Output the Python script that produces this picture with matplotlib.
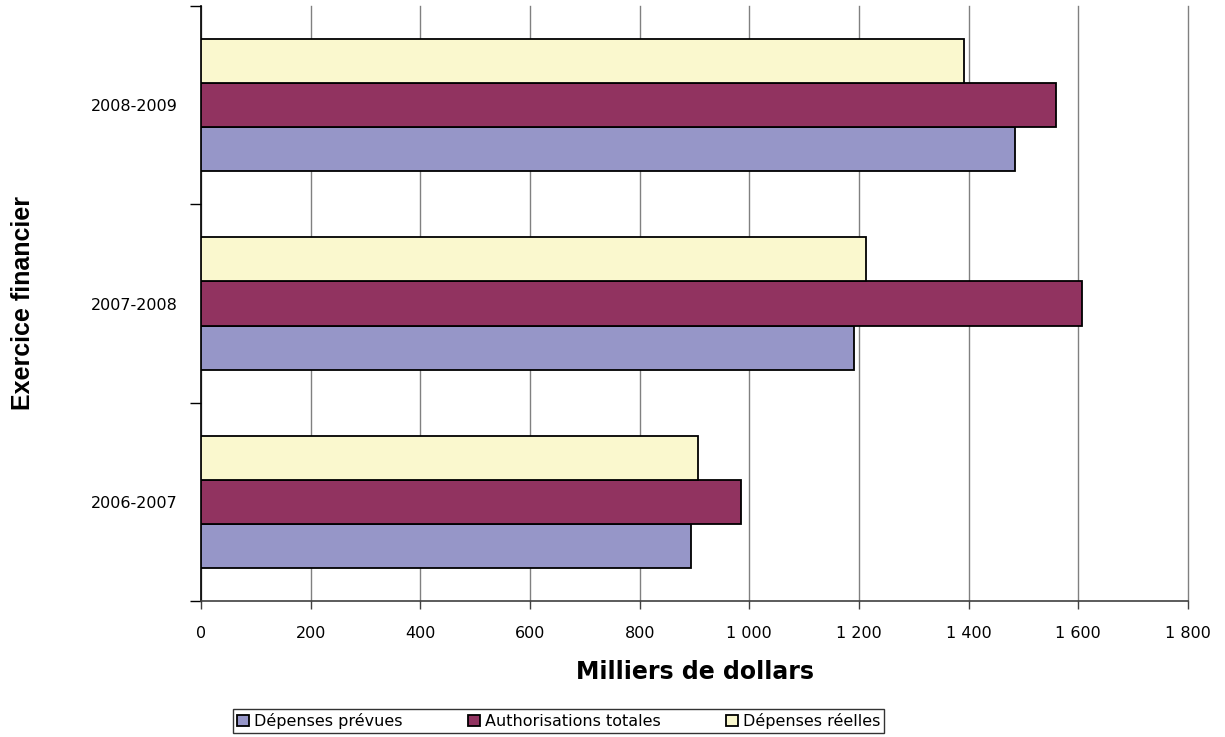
import matplotlib
matplotlib.use("Agg")
import matplotlib.pyplot as plt
import numpy as np
from matplotlib.ticker import FixedLocator, FuncFormatter

plt.rcParams['font.family'] = ['DejaVu Sans']

categories = ["2006-2007", "2007-2008", "2008-2009"]
series_names = ["Dépenses prévues", "Authorisations totales", "Dépenses réelles"]
prevues = [894, 1191, 1485]
autorisations = [984, 1606, 1560]
reelles = [907, 1212, 1392]
colors = ["#9696C8", "#913360", "#FAF8CE"]
xticks = [0, 200, 400, 600, 800, 1000, 1200, 1400, 1600, 1800]

W, H = 1225, 737
fig = plt.figure(figsize=(W / 100, H / 100), dpi=100)
ax = fig.add_axes([201 / W, 1 - 601 / H, 987 / W, 595 / H])

y = np.arange(len(categories))
h = 0.222
for i, (vals, name, c) in enumerate(zip([prevues, autorisations, reelles], series_names, colors)):
    ax.barh(y + (i - 1) * h, vals, height=h, color=c, edgecolor="black",
            linewidth=1.3, label=name, zorder=3)

ax.set_xlim(0, 1800)
ax.set_ylim(-0.5, 2.5)
ax.xaxis.set_major_locator(FixedLocator(xticks))
ax.xaxis.set_major_formatter(FuncFormatter(lambda v, p: f"{int(v):,}".replace(",", " ")))
ax.grid(axis="x", color="#808080", linewidth=1.0, zorder=0)
ax.set_axisbelow(True)
for gl in ax.xaxis.get_gridlines():
    gl.set_clip_on(False)

ax.set_yticks(y)
ax.set_yticklabels(categories)
ax.set_yticks([-0.5, 0.5, 1.5, 2.5], minor=True)
ax.tick_params(axis="y", which="major", length=0, pad=16.5, labelsize=11.5)
ax.tick_params(axis="y", which="minor", length=8, width=1, color="black", direction="out")
ax.tick_params(axis="x", which="major", length=6, width=1, color="#404040", pad=12, labelsize=11.5)

for s in ["top", "right"]:
    ax.spines[s].set_visible(False)
ax.spines["left"].set_color("black")
ax.spines["bottom"].set_color("#404040")
ax.spines["left"].set_linewidth(1.2)
ax.spines["bottom"].set_linewidth(1.2)

ax.set_xlabel("Milliers de dollars", fontsize=17, fontweight="bold")
ax.xaxis.set_label_coords(0.5, -(672 - 601) / 595)
ax.xaxis.label.set_va("center")
ax.set_ylabel("Exercice financier", fontsize=18, fontweight="bold",
              family=["Liberation Sans", "DejaVu Sans"])
ax.yaxis.set_label_coords(-(201 - 23) / 987, 0.5)
ax.yaxis.label.set_va("center")

leg = fig.legend(loc="lower left", bbox_to_anchor=(233 / W, 1 - 733 / H, (884 - 233) / W, 26 / H),
                 mode="expand", ncol=3,
                 frameon=True, fancybox=False, edgecolor="black", fontsize=11.5,
                 handlelength=0.75, handleheight=0.75, handletextpad=0.3,
                 columnspacing=0.6, borderpad=0.25, borderaxespad=0)
leg.get_frame().set_linewidth(1.0)

fig.savefig("out.png", dpi=100)
